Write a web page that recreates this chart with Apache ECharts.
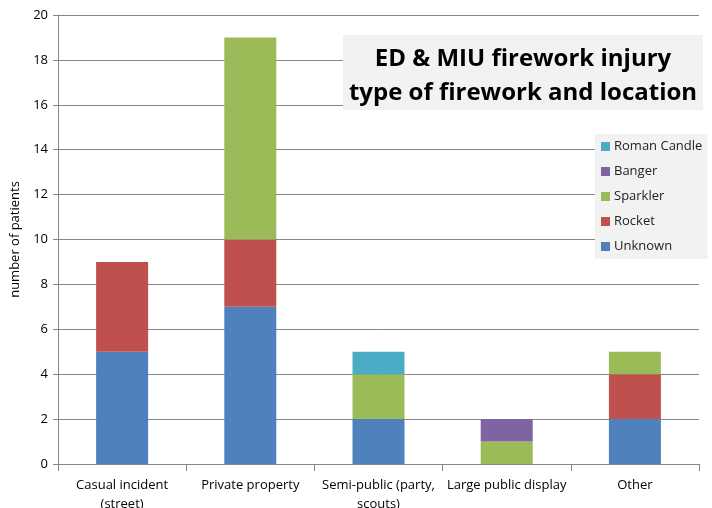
<!DOCTYPE html>
<html><head><meta charset="utf-8">
<script src="https://cdn.jsdelivr.net/npm/echarts@6/dist/echarts.min.js"></script>
<style>html,body{margin:0;padding:0;background:#fff}#c{width:712px;height:508px}</style>
</head><body><div id="c"></div>
<script>
const categories = ['Casual incident\n(street)', 'Private property', 'Semi-public (party,\nscouts)', 'Large public display', 'Other'];
const unknown = [5, 7, 2, 0, 2];
const rocket = [4, 3, 0, 0, 2];
const sparkler = [0, 9, 2, 1, 1];
const banger = [0, 0, 0, 1, 0];
const romanCandle = [0, 0, 1, 0, 0];
const legendOrder = ['Roman Candle', 'Banger', 'Sparkler', 'Rocket', 'Unknown'];
const titleLines = ['ED & MIU firework injury', 'type of firework and location'];

const font = '"Open Sans", "Noto Sans", sans-serif';
const chart = echarts.init(document.getElementById('c'));
function s(name, data, color) {
  return { name, type: 'bar', stack: 'a', data: data.map(v => v === 0 ? null : v), barWidth: 52,
    itemStyle: { color }, emphasis: { disabled: true } };
}
chart.setOption({
  animation: false,
  textStyle: { fontFamily: font },
  grid: { left: 58, right: 13, top: 15, bottom: 44, containLabel: false, outerBoundsMode: 'none' },
  graphic: [
    { type: 'rect', shape: { x: 343, y: 35, width: 360, height: 75 }, style: { fill: '#f2f2f2' }, z: 10 },
    { type: 'text', x: 523, y: 59, z: 11, style: { text: titleLines[0], fill: '#000', font: 'bold 24px ' + font, textAlign: 'center', textVerticalAlign: 'middle' } },
    { type: 'text', x: 523, y: 93, z: 11, style: { text: titleLines[1], fill: '#000', font: 'bold 24px ' + font, textAlign: 'center', textVerticalAlign: 'middle' } }
  ],
  legend: {
    orient: 'vertical', left: 595, top: 134,
    data: legendOrder,
    backgroundColor: '#f2f2f2',
    padding: [6, 5, 6, 6],
    itemWidth: 9, itemHeight: 9, itemGap: 12, icon: 'rect',
    textStyle: { fontFamily: font, fontSize: 13, color: '#222', padding: [0, 0, 0, -1] }
  },
  xAxis: {
    type: 'category', data: categories,
    axisLine: { lineStyle: { color: '#868686' } },
    axisTick: { show: true, length: 7, lineStyle: { color: '#868686' } },
    axisLabel: { color: '#000', fontSize: 13, margin: 12, lineHeight: 19, interval: 0 }
  },
  yAxis: {
    type: 'value', min: 0, max: 20, interval: 2,
    name: 'number of patients', nameLocation: 'middle', nameGap: 32,
    nameTextStyle: { color: '#000', fontSize: 13, fontFamily: font },
    axisLine: { show: true, lineStyle: { color: '#868686' } },
    axisTick: { show: true, length: 5, lineStyle: { color: '#868686' } },
    splitLine: { lineStyle: { color: '#868686' } },
    axisLabel: { color: '#000', fontSize: 13, margin: 10 }
  },
  series: [
    s('Unknown', unknown, '#4F81BD'),
    s('Rocket', rocket, '#C0504D'),
    s('Sparkler', sparkler, '#9BBB59'),
    s('Banger', banger, '#8064A2'),
    s('Roman Candle', romanCandle, '#4BACC6')
  ]
});
</script></body></html>
